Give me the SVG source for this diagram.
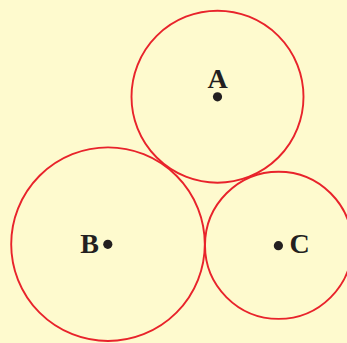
<svg xmlns="http://www.w3.org/2000/svg" width="347" height="343" viewBox="0 0 347 343">
<style>
.c{fill:none;stroke:#E8232B;stroke-width:1.9}
.d{fill:#231F20}
.t{font-family:"Liberation Serif","Times New Roman",serif;font-weight:bold;font-size:28px;fill:#231F20}
</style>
<rect width="347" height="343" fill="#FEFACE"/>
<g id="A"><circle class="c" cx="217.5" cy="96.7" r="86"/><circle class="d" cx="217.5" cy="96.8" r="4.6"/><text class="t" x="217.5" y="87.5" text-anchor="middle">A</text></g>
<g id="B"><circle class="c" cx="108" cy="244.2" r="96.8"/><circle class="d" cx="107.8" cy="244.3" r="4.6"/><text class="t" x="99" y="253.3" text-anchor="end">B</text></g>
<g id="C"><circle class="c" cx="278.6" cy="245.3" r="73.6"/><circle class="d" cx="278.4" cy="245.7" r="4.6"/><text class="t" x="289.5" y="253.3">C</text></g>
</svg>
